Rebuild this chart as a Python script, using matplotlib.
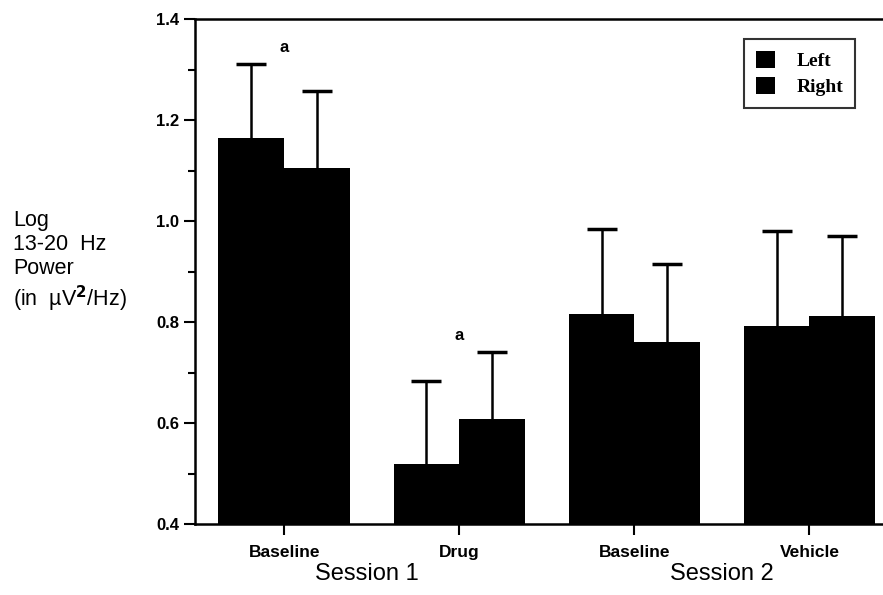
import numpy as np
import matplotlib
matplotlib.use("Agg")
import matplotlib.pyplot as plt
import matplotlib.transforms as mtransforms
from matplotlib.patches import Patch

# values
conditions = ["Baseline", "Drug", "Baseline", "Vehicle"]
sessions = ["Session 1", "Session 2"]
session_pos = [0.47, 2.5]
left_mean = [1.164, 0.519, 0.816, 0.792]
left_err = [0.147, 0.164, 0.168, 0.188]
right_mean = [1.105, 0.608, 0.760, 0.812]
right_err = [0.152, 0.133, 0.155, 0.158]
sig_marks = [(0, 1.343), (1, 0.774)]

plt.rcParams["font.family"] = ["Liberation Sans", "DejaVu Sans"]

fig = plt.figure(figsize=(8.83, 5.95), dpi=100)
ax = fig.add_axes([195 / 883, 1 - 524 / 595, 1 - 195 / 883, 505 / 595])

x = np.arange(len(conditions))
w = 0.375
for xs, means, errs in [(x - w / 2, left_mean, left_err), (x + w / 2, right_mean, right_err)]:
    ax.bar(xs, means, w, color="black")
    _, caps, _ = ax.errorbar(xs, means, yerr=[np.zeros(len(errs)), errs], fmt="none",
                             ecolor="black", elinewidth=1.8, capsize=11, capthick=2.5)
    caps[0].set_visible(False)  # only upper whiskers in the original

for xi, yi in sig_marks:
    ax.text(xi, yi, "a", ha="center", va="center", fontsize=12, fontweight="bold")

ax.set_xlim(-0.509, 3.42)
ax.set_ylim(0.4, 1.4)
ax.set_yticks(np.arange(0.4, 1.41, 0.2))
ax.set_yticks(np.arange(0.5, 1.4, 0.2), minor=True)
ax.set_yticklabels(["%.1f" % v for v in np.arange(0.4, 1.41, 0.2)],
                   fontsize=12, fontweight="bold")
ax.set_xticks(x)
ax.set_xticklabels(conditions, fontsize=12.5, fontweight="bold")
ax.tick_params(axis="y", which="major", length=8, width=1.5, direction="out")
ax.tick_params(axis="y", which="minor", length=5, width=1.5, direction="out")
ax.tick_params(axis="x", length=8, width=1.5, direction="out", pad=7)

for s in ["left", "bottom", "top"]:
    ax.spines[s].set_linewidth(1.8)
ax.spines["right"].set_visible(False)

trans = mtransforms.blended_transform_factory(ax.transData, ax.transAxes)
for pos, name in zip(session_pos, sessions):
    ax.text(pos, -(574 - 524) / 505, name, transform=trans, ha="center", va="center",
            fontsize=17)

fig.text(13 / 883, 1 - 262 / 595, "Log\n13-20  Hz\nPower\n(in  µV$^{\\mathbf{2}}$/Hz)",
         ha="left", va="center", fontsize=15.5, linespacing=1.2)

handles = [Patch(facecolor="black", label="Left"), Patch(facecolor="black", label="Right")]
leg = ax.legend(handles=handles, loc="upper right", bbox_to_anchor=(0.959, 0.96),
                prop={"family": "Liberation Serif", "size": 14, "weight": "bold"},
                frameon=True, fancybox=False, edgecolor="black", handlelength=1.0,
                handleheight=1.0, handletextpad=1.1, borderpad=0.6, borderaxespad=0,
                labelspacing=0.35)
leg.get_frame().set_linewidth(1.5)

fig.savefig("out.png", dpi=100)
